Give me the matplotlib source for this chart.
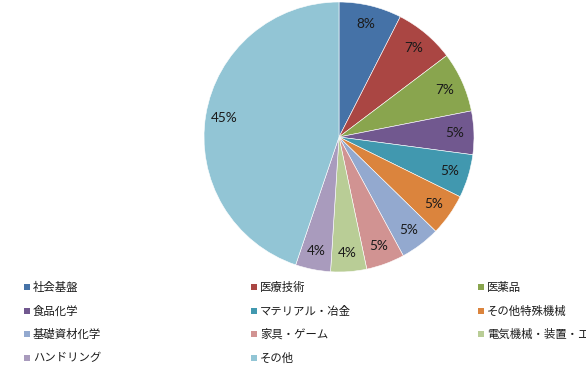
import matplotlib
matplotlib.use("Agg")
import matplotlib.pyplot as plt
from matplotlib.patches import Rectangle

# Shares by field (percent), clockwise from 12 o'clock
categories = ["社会基盤", "医療技術", "医薬品", "食品化学", "マテリアル・冶金",
              "その他特殊機械", "基礎資材化学", "家具・ゲーム",
              "電気機械・装置・エネルギー", "ハンドリング", "その他"]
shares = [7.5, 7.2, 7.2, 5.2, 5.2, 5.0, 4.8, 4.6, 4.3, 4.2, 44.8]
pct_labels = ["8%", "7%", "7%", "5%", "5%", "5%", "5%", "5%", "4%", "4%", "45%"]
colors = ["#4572A7", "#AA4643", "#89A54E", "#71588F", "#4198AF", "#DB843D",
          "#93A9CF", "#D19392", "#B9CD96", "#A99BBD", "#92C5D5"]

W, H = 586, 377
fig = plt.figure(figsize=(W / 100, H / 100), dpi=100)
fig.patch.set_facecolor("white")

# pie: centre (339, 137) px, radius 135 px
cx, cy, r = 339, 137, 135
ax = fig.add_axes([(cx - r) / W, (H - cy - r) / H, 2 * r / W, 2 * r / H])
wedges, texts, autotexts = ax.pie(
    shares,
    colors=colors,
    startangle=90,
    counterclock=False,
    autopct="%1.0f%%",
    pctdistance=0.86,
    radius=1.0,
    wedgeprops=dict(edgecolor="white", linewidth=0.4),
    textprops=dict(fontsize=9.8, color="#1a1a1a", family="Lato"),
)
for t, lab in zip(autotexts, pct_labels):
    t.set_text(lab)
ax.set_xlim(-1, 1)
ax.set_ylim(-1, 1)
ax.set_aspect("equal")
ax.axis("off")

# legend, filled row by row, 3 columns
col_x = [24, 251, 478]
row_y = [287, 311, 334, 358]
box = 6
for i, (name, c) in enumerate(zip(categories, colors)):
    col, row = i % 3, i // 3
    x, y = col_x[col], row_y[row]
    fig.patches.append(Rectangle((x / W, (H - y - box / 2) / H), box / W, box / H,
                                 transform=fig.transFigure, facecolor=c,
                                 edgecolor="none"))
    fig.text((x + box + 3) / W, (H - y) / H, name, fontsize=8.2, va="center",
             ha="left", color="#1a1a1a",
             family=["Noto Sans CJK JP", "DejaVu Sans"])

fig.savefig("out.png", dpi=100)
